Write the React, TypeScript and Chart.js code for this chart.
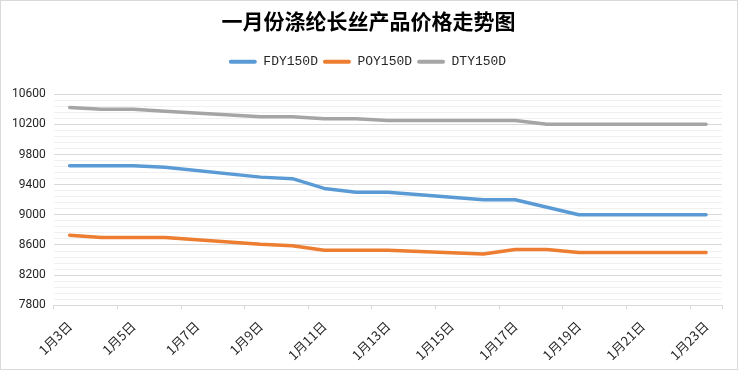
import React, { useEffect, useRef } from 'react';
import { Chart, registerables } from 'chart.js';

Chart.register(...registerables);

const dates = [
  '1月3日', '1月4日', '1月5日', '1月6日', '1月7日', '1月8日', '1月9日',
  '1月10日', '1月11日', '1月12日', '1月13日', '1月14日', '1月15日', '1月16日',
  '1月17日', '1月18日', '1月19日', '1月20日', '1月21日', '1月22日', '1月23日',
];

const fdy150d = [9650, 9650, 9650, 9630, null, null, 9500, 9480, 9350, 9300, 9300, null, null, 9200, 9200, 9100, 9000, 9000, null, null, 9000];
const poy150d = [8730, 8700, 8700, 8700, null, null, 8610, 8590, 8530, 8530, 8530, null, null, 8480, 8540, 8540, 8500, 8500, null, null, 8500];
const dty150d = [10425, 10400, 10400, 10375, null, null, 10300, 10300, 10275, 10275, 10250, null, null, 10250, 10250, 10200, 10200, 10200, null, null, 10200];

const seriesNames = ['FDY150D', 'POY150D', 'DTY150D'];
const seriesColors = ['#5B9BD5', '#ED7D31', '#A5A5A5'];

const yMin = 7800;
const yMax = 10600;
const yMajorStep = 400;
const yMinorStep = 80;

const titleText = '一月份涤纶长丝产品价格走势图';

const isMajor = (v: number) => {
  const r = Math.abs(v - yMin) % yMajorStep;
  return r < 1e-6 || yMajorStep - r < 1e-6;
};

export default function App() {
  const ref = useRef<HTMLCanvasElement | null>(null);

  useEffect(() => {
    document.body.style.margin = '0';
    if (!ref.current) return;
    const headerTweak = {
      id: 'headerTweak',
      beforeInit(chart: any) {
        const orig = chart.legend.fit;
        chart.legend.fit = function () {
          orig.bind(chart.legend)();
          this.height += 16;
        };
      },
      afterLayout(chart: any) {
        if (chart.titleBlock) chart.titleBlock.left += 11;
        if (chart.legend) chart.legend.left += 9;
      },
    };
    const values = [fdy150d, poy150d, dty150d];
    const chart = new Chart(ref.current, {
      type: 'line',
      data: {
        labels: dates,
        datasets: values.map((v, i) => ({
          label: seriesNames[i],
          data: v,
          borderColor: seriesColors[i],
          backgroundColor: seriesColors[i],
          borderWidth: 3.5,
          pointRadius: 0,
          pointHoverRadius: 0,
          tension: 0,
          spanGaps: true,
          borderCapStyle: 'round',
          borderJoinStyle: 'round',
        })),
      },
      options: {
        animation: false,
        responsive: false,
        maintainAspectRatio: false,
        layout: { padding: { left: 3, right: 15, top: 0, bottom: 0 } },
        plugins: {
          title: {
            display: true,
            text: titleText,
            color: '#000000',
            font: { family: '"Noto Sans CJK SC", sans-serif', size: 21, weight: 'bold' },
            padding: { top: 7, bottom: 17 },
          },
          legend: {
            display: true,
            position: 'top',
            labels: {
              boxWidth: 28,
              boxHeight: 4,
              padding: 5,
              color: '#262626',
              useBorderRadius: true,
              borderRadius: 2,
              font: { family: '"Liberation Mono", monospace', size: 13 },
              generateLabels: (c: any) =>
                Chart.defaults.plugins.legend.labels.generateLabels(c).map((l: any) => ({ ...l, lineWidth: 0 })),
            },
          },
          tooltip: { enabled: false },
        },
        scales: {
          x: {
            type: 'category',
            offset: true,
            afterFit: (scale: any) => {
              scale.height -= 3;
            },
            grid: {
              offset: true,
              drawOnChartArea: false,
              drawTicks: true,
              tickLength: 4,
              color: (ctx: any) => (ctx.index === undefined || ctx.index % 2 === 0 ? '#d9d9d9' : 'rgba(0,0,0,0)'),
            },
            border: { display: true, color: '#d9d9d9', width: 1 },
            ticks: {
              autoSkip: false,
              maxRotation: 45,
              minRotation: 45,
              padding: 9,
              color: '#262626',
              font: { family: '"Noto Sans CJK SC", sans-serif', size: 13 },
              callback: (_v: any, i: number) => (i % 2 === 0 ? dates[i] : ''),
            },
          },
          y: {
            type: 'linear',
            min: yMin,
            max: yMax,
            border: { display: false },
            grid: {
              drawTicks: false,
              color: (ctx: any) => (ctx.tick && isMajor(ctx.tick.value) ? '#d9d9d9' : '#f0f0f0'),
              lineWidth: 1,
            },
            ticks: {
              stepSize: yMinorStep,
              autoSkip: false,
              maxTicksLimit: 1000,
              padding: 8,
              color: '#262626',
              font: { family: 'Roboto, sans-serif', size: 12 },
              callback: (v: any) => (isMajor(Number(v)) ? String(Math.round(Number(v))) : ''),
            },
          },
        },
      },
      plugins: [headerTweak],
    } as any);
    return () => chart.destroy();
  }, []);

  return (
    <div
      style={{
        position: 'fixed',
        left: 0,
        top: 0,
        width: 738,
        height: 370,
        boxSizing: 'border-box',
        border: '1px solid #d9d9d9',
        background: '#ffffff',
      }}
    >
      <canvas ref={ref} width={736} height={368} style={{ display: 'block', width: 736, height: 368 }} />
    </div>
  );
}
